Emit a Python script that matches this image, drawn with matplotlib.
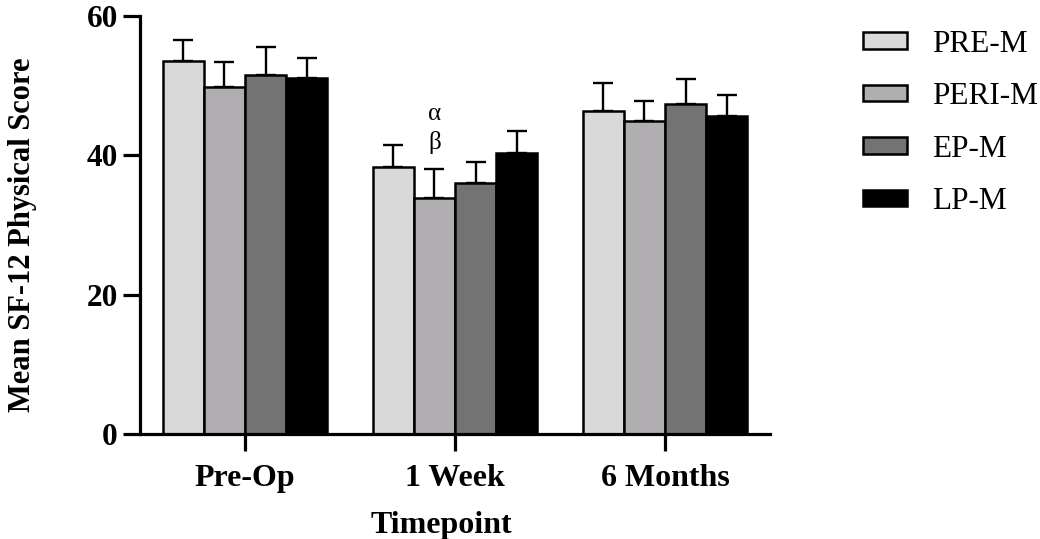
import numpy as np
import matplotlib
matplotlib.use("Agg")
import matplotlib.pyplot as plt

plt.rcParams['font.family'] = ['Liberation Serif', 'DejaVu Serif']

timepoints = ['Pre-Op', '1 Week', '6 Months']
groups = ['PRE-M', 'PERI-M', 'EP-M', 'LP-M']
colors = ['#d9d9d9', '#b1aeb1', '#737373', '#000000']

# mean SF-12 physical score per group, one value per timepoint
pre_m = [53.5, 38.3, 46.3]
peri_m = [49.8, 33.9, 44.9]
ep_m = [51.5, 36.0, 47.3]
lp_m = [51.1, 40.4, 45.6]

# upper error (SD / SEM)
pre_m_err = [3.1, 3.2, 4.1]
peri_m_err = [3.6, 4.1, 2.9]
ep_m_err = [4.1, 3.0, 3.6]
lp_m_err = [2.9, 3.1, 3.1]

means = [pre_m, peri_m, ep_m, lp_m]
errs = [pre_m_err, peri_m_err, ep_m_err, lp_m_err]

fig = plt.figure(figsize=(10.4, 5.39), dpi=100)
ax = fig.add_axes([0.1346, 0.1948, 0.6058, 0.7755])

x = np.arange(len(timepoints))
width = 0.196
for i, (m, e) in enumerate(zip(means, errs)):
    pos = x + (i - 1.5) * width
    ax.bar(pos, m, width, color=colors[i], edgecolor='black', linewidth=1.8,
           label=groups[i], zorder=2)
    ax.errorbar(pos, m, yerr=[np.zeros(len(e)), e], fmt='none', ecolor='black',
                elinewidth=1.7, capsize=7.5, capthick=1.7, zorder=1)

# significance markers over PERI-M at 1 week
ax.text(x[1] - 0.5 * width, 46.0, 'α', ha='center', va='center', fontsize=18)
ax.text(x[1] - 0.5 * width, 41.9, 'β', ha='center', va='center', fontsize=18)

ax.set_xlim(-0.5, 2.5)
ax.set_ylim(0, 60)
ax.set_yticks([0, 20, 40, 60])
ax.set_xticks(x)
ax.set_xticklabels(timepoints)

for side in ['top', 'right']:
    ax.spines[side].set_visible(False)
for side in ['left', 'bottom']:
    ax.spines[side].set_linewidth(2.3)

ax.tick_params(axis='y', length=12, width=2.3, pad=4, labelsize=22.5)
ax.tick_params(axis='x', length=12.5, width=2.3, pad=9, labelsize=23)
for lab in ax.get_xticklabels() + ax.get_yticklabels():
    lab.set_fontweight('bold')

ax.set_ylabel('Mean SF-12 Physical Score', fontsize=22, fontweight='bold')
ax.set_xlabel('Timepoint', fontsize=23, fontweight='bold')
ax.yaxis.set_label_coords(-0.163, 0.476)
ax.xaxis.set_label_coords(0.479, -0.184)

ax.legend(loc='upper left', bbox_to_anchor=(0.818, 0.968), bbox_transform=fig.transFigure,
          frameon=False, fontsize=22.5, handlelength=1.4, handleheight=0.45,
          handletextpad=0.8, labelspacing=0.75, borderaxespad=0)

fig.savefig('out.png', dpi=100)
